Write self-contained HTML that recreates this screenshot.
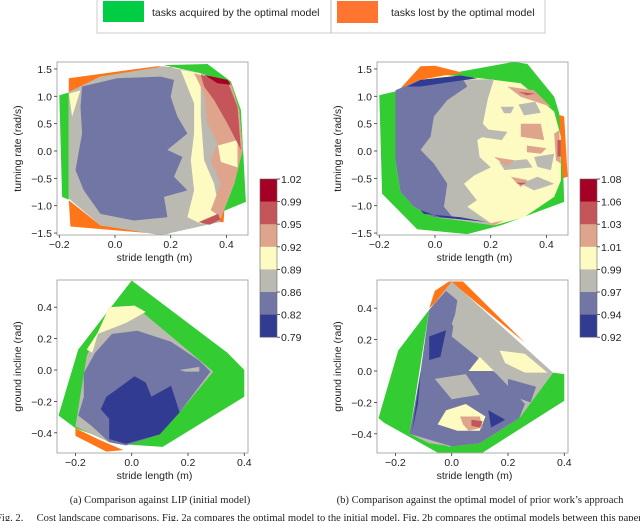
<!DOCTYPE html>
<html><head><meta charset="utf-8"><style>
body{margin:0;background:#fff;width:640px;height:521px;overflow:hidden;font-family:"Liberation Sans",sans-serif}
svg{display:block}
</style></head><body>
<svg id="fig" width="640" height="521" viewBox="0 0 640 521" xmlns="http://www.w3.org/2000/svg">
<g>
<rect x="97" y="-1" width="448" height="34" fill="#fff" stroke="#ccc"/>
<line x1="331" y1="0" x2="331" y2="33" stroke="#bbb"/>
<rect x="103" y="1" width="41" height="21" fill="#00cc44"/>
<text x="152" y="16" font-size="10.5" fill="#222">tasks acquired by the optimal model</text>
<rect x="337" y="1" width="41" height="22" fill="#ff7530"/>
<text x="391" y="16" font-size="10.5" fill="#222">tasks lost by the optimal model</text>
</g>
<text x="160" y="503" font-size="10.6" text-anchor="middle" font-family="Liberation Serif,serif" fill="#222">(a) Comparison against LIP (initial model)</text>
<text x="480" y="503" font-size="10.6" text-anchor="middle" font-family="Liberation Serif,serif" fill="#222">(b) Comparison against the optimal model of prior work’s approach</text>
<text x="-4" y="521" font-size="10.6" font-family="Liberation Serif,serif" fill="#222" xml:space="preserve">Fig. 2.     Cost landscape comparisons. Fig. 2a compares the optimal model to the initial model. Fig. 2b compares the optimal models between this paper</text>
</svg>
<script>
const C={g:"#33cc33",o:"#ff7518",db:"#323b92",b:"#7276a4",gr:"#babab2",y:"#fdfac2",s:"#dea58c",r:"#c45659",dr:"#a50026"};
// colorbar tick labels
const cbLabelsA=["1.02","0.99","0.95","0.92","0.89","0.86","0.82","0.79"];
const cbLabelsB=["1.08","1.06","1.03","1.01","0.99","0.97","0.94","0.92"];
const topXTicks=[-0.2,0,0.2,0.4];
const topYTicks=[1.5,1.0,0.5,0.0,-0.5,-1.0,-1.5];
const botXTicks=[-0.2,0,0.2,0.4];
const botYTicks=[0.4,0.2,0.0,-0.2,-0.4];
// contour regions, data units [stride, y]
const TL=[
["g",[[-0.20,1.02],[-0.166,1.07],[-0.166,-0.89],[-0.19,-0.84]]],
["g",[[0.176,1.57],[0.332,1.59],[0.416,1.27],[0.452,0.75],[0.47,-0.93],[0.188,-1.52],[0.164,-1.52],[0.374,-1.30],[0.428,-0.60],[0.458,0.02],[0.446,0.75],[0.416,1.24],[0.308,1.42]]],
["o",[[-0.166,1.33],[0.152,1.55],[0.212,1.53],[-0.052,1.36],[-0.166,1.07]]],
["o",[[-0.166,-0.90],[-0.16,-1.38],[0.164,-1.52],[-0.052,-1.36]]],
["o",[[0.404,1.27],[0.42,1.22],[0.39,-1.30],[0.37,-1.30]]],
["gr",[[-0.166,1.08],[-0.052,1.36],[0.176,1.55],[0.308,1.42],[0.416,1.24],[0.446,0.75],[0.458,0.02],[0.428,-0.60],[0.374,-1.30],[0.164,-1.54],[-0.052,-1.36],[-0.166,-0.87],[-0.166,0.75]]],
["b",[[-0.118,1.18],[0.008,1.33],[0.164,1.36],[0.212,1.30],[0.20,0.99],[0.224,0.63],[0.26,0.32],[0.188,0.02],[0.242,-0.11],[0.212,-0.47],[0.26,-0.72],[0.176,-0.84],[0.188,-1.21],[0.068,-1.27],[-0.052,-1.15],[-0.112,-0.72],[-0.142,-0.35],[-0.118,0.32],[-0.124,0.81]]],
["y",[[0.236,1.48],[0.308,1.42],[0.308,0.63],[0.32,-0.17],[0.356,-0.60],[0.38,-1.21],[0.308,-1.33],[0.26,-1.21],[0.284,-0.72],[0.272,-0.17],[0.284,0.32],[0.284,0.87]]],
["y",[[-0.166,1.05],[-0.124,1.11],[-0.154,0.63]]],
["s",[[0.284,1.42],[0.416,1.24],[0.446,0.75],[0.458,0.02],[0.428,-0.60],[0.38,-1.21],[0.344,-1.08],[0.38,-0.60],[0.344,-0.17],[0.368,0.14],[0.332,0.50],[0.32,1.05]]],
["y",[[0.37,0.1],[0.44,0.2],[0.44,-0.3],[0.38,-0.2]]],
["r",[[0.308,1.39],[0.404,1.27],[0.44,0.81],[0.452,0.02],[0.428,0.26],[0.404,0.50],[0.356,0.93],[0.32,1.18]]],
["r",[[0.30,-1.30],[0.37,-1.15],[0.38,-1.25],[0.34,-1.35]]],
["dr",[[0.322,1.39],[0.404,1.30],[0.416,1.21],[0.368,1.24]]]
];
const TR=[
["g",[[-0.20,1.02],[-0.124,1.11],[0.088,1.45],[0.284,1.63],[0.332,1.59],[0.428,0.99],[0.446,0.69],[0.458,-0.05],[0.464,-0.93],[0.236,-1.36],[0.116,-1.52],[-0.064,-1.43],[-0.19,-0.78]]],
["o",[[-0.13,1.11],[-0.052,1.55],[0.0,1.56],[0.10,1.43],[0.06,1.39],[-0.052,1.30]]],
["o",[[0.446,0.66],[0.464,0.63],[0.476,-0.47],[0.458,-0.50],[0.452,0.02]]],
["y",[[-0.142,1.11],[-0.052,1.30],[0.04,1.39],[0.164,1.33],[0.308,1.24],[0.428,0.72],[0.452,0.26],[0.452,-0.54],[0.428,-0.84],[0.32,-1.21],[0.212,-1.36],[0.092,-1.27],[-0.004,-1.21],[-0.076,-1.02],[-0.124,-0.75],[-0.142,-0.17]]],
["gr",[[-0.142,1.11],[-0.052,1.30],[0.212,1.31],[0.19,0.96],[0.172,0.5],[0.2,0.35],[0.152,0.2],[0.16,-0.11],[0.2,-0.3],[0.14,-0.45],[0.104,-0.6],[0.15,-0.9],[0.116,-1.02],[0.212,-1.36],[0.092,-1.27],[-0.004,-1.21],[-0.076,-1.02],[-0.124,-0.75],[-0.142,-0.17]]],
["gr",[[0.236,0.81],[0.284,0.81],[0.272,0.69],[0.248,0.69]]],
["gr",[[0.356,-0.11],[0.428,-0.05],[0.416,-0.35],[0.368,-0.29]]],
["gr",[[0.308,-0.60],[0.368,-0.47],[0.428,-0.60],[0.356,-0.72]]],
["gr",[[0.18,0.4],[0.26,0.35],[0.24,0.2],[0.17,0.25]]],
["gr",[[0.23,-0.2],[0.33,-0.15],[0.35,-0.3],[0.25,-0.35]]],
["gr",[[0.3,0.85],[0.36,0.9],[0.38,0.7],[0.32,0.65]]],
["b",[[-0.142,1.11],[-0.052,1.30],[0.092,1.38],[0.116,1.18],[0.044,0.93],[-0.004,0.63],[-0.016,0.26],[-0.052,0.02],[-0.004,-0.23],[0.044,-0.60],[0.032,-1.02],[0.068,-1.24],[-0.004,-1.21],[-0.076,-1.02],[-0.124,-0.75],[-0.142,-0.17]]],
["db",[[-0.10,1.18],[-0.052,1.30],[0.092,1.38],[0.152,1.33],[0.068,1.27],[-0.052,1.18]]],
["db",[[-0.052,-1.08],[0.02,-1.21],[0.188,-1.30],[0.092,-1.21],[-0.04,-1.15]]],
["s",[[0.26,1.18],[0.356,1.11],[0.416,0.81],[0.308,0.99]]],
["s",[[0.308,0.50],[0.38,0.50],[0.392,0.20],[0.308,0.26]]],
["s",[[0.212,-0.11],[0.284,-0.17],[0.26,-0.29]]],
["s",[[0.272,-0.47],[0.332,-0.53],[0.308,-0.66]]],
["s",[[0.33,0.1],[0.4,0.05],[0.38,-0.05],[0.33,-0.02]]],
["s",[[0.428,0.32],[0.446,0.38],[0.452,-0.23],[0.434,-0.17]]],
["s",[[0.188,-1.33],[0.248,-1.27],[0.212,-1.36]]],
["r",[[0.30,1.08],[0.36,1.05],[0.33,1.02]]],
["r",[[0.29,-0.58],[0.33,-0.58],[0.31,-0.62]]],
["r",[[0.44,0.2],[0.452,0.2],[0.452,-0.1],[0.44,-0.1]]]
];
const BL=[
["g",[[-0.26,-0.29],[-0.19,0.13],[0.0,0.57],[0.34,0.11],[0.40,0.0],[0.40,-0.17],[0.11,-0.49],[-0.05,-0.47],[-0.20,-0.37]]],
["o",[[-0.20,-0.37],[-0.20,-0.42],[-0.09,-0.52],[-0.03,-0.51],[-0.12,-0.44]]],
["gr",[[-0.08,0.40],[0.01,0.41],[0.29,-0.01],[0.17,-0.27],[0.10,-0.41],[-0.02,-0.48],[-0.08,-0.46],[-0.20,-0.36],[-0.16,0.09],[-0.12,0.24]]],
["y",[[-0.08,0.40],[0.01,0.41],[0.05,0.37],[-0.02,0.30],[-0.12,0.23],[-0.14,0.11],[-0.16,0.13],[-0.12,0.24]]],
["b",[[-0.13,0.11],[-0.07,0.23],[0.02,0.25],[0.14,0.18],[0.24,0.06],[0.28,-0.01],[0.17,-0.27],[0.10,-0.41],[-0.02,-0.48],[-0.08,-0.46],[-0.14,-0.36],[-0.19,-0.29],[-0.17,-0.17],[-0.17,-0.02]]],
["gr",[[0.17,0.0],[0.24,0.02],[0.24,-0.01],[0.19,-0.01]]],
["db",[[-0.09,-0.17],[-0.05,-0.12],[0.01,-0.04],[0.05,-0.08],[0.07,-0.17],[0.14,-0.10],[0.17,-0.27],[0.10,-0.41],[-0.02,-0.47],[-0.08,-0.44],[-0.08,-0.31],[-0.11,-0.25]]]
];
const BR=[
["g",[[-0.26,-0.30],[-0.19,0.13],[-0.08,0.39],[-0.15,-0.40],[-0.01,-0.48],[0.10,-0.46],[0.24,-0.30],[0.36,-0.01],[0.40,-0.02],[0.40,-0.19],[0.11,-0.52],[-0.05,-0.52],[-0.24,-0.33]]],
["o",[[-0.06,0.51],[-0.01,0.57],[0.04,0.57],[0.26,0.18],[0.01,0.55],[-0.08,0.40]]],
["gr",[[-0.08,0.39],[0.0,0.57],[0.36,-0.01],[0.24,-0.30],[0.10,-0.46],[0.0,-0.48],[-0.08,-0.46],[-0.15,-0.40],[-0.11,0.0]]],
["b",[[-0.08,0.39],[-0.02,0.51],[0.02,0.45],[0.0,0.22],[0.09,0.09],[0.16,-0.02],[0.24,-0.17],[0.26,-0.21],[0.24,-0.30],[0.10,-0.46],[0.0,-0.48],[-0.15,-0.40],[-0.11,0.0]]],
["b",[[0.2,-0.05],[0.3,-0.1],[0.28,-0.2],[0.2,-0.15]]],
["gr",[[0.02,0.40],[0.08,0.30],[0.04,0.20],[0.0,0.30]]],
["gr",[[-0.06,-0.05],[0.05,-0.02],[0.1,-0.15],[0.0,-0.18]]],
["y",[[0.17,0.13],[0.26,0.11],[0.34,-0.01],[0.26,-0.01],[0.19,0.05]]],
["y",[[0.10,0.09],[0.15,0.0],[0.06,0.0]]],
["y",[[-0.02,-0.25],[0.05,-0.21],[0.12,-0.29],[0.10,-0.38],[0.02,-0.38],[-0.05,-0.34]]],
["s",[[0.03,-0.29],[0.10,-0.29],[0.11,-0.36],[0.06,-0.38],[0.04,-0.34]]],
["r",[[0.07,-0.31],[0.11,-0.32],[0.10,-0.36],[0.07,-0.35]]],
["db",[[-0.08,0.22],[-0.02,0.26],[-0.04,0.09],[-0.08,0.07]]],
["db",[[0.13,-0.25],[0.19,-0.31],[0.14,-0.36]]],
["db",[[-0.14,-0.38],[-0.11,0.0],[-0.12,-0.21]]]
];
const NS="http://www.w3.org/2000/svg";
const svg=document.getElementById("fig");
function mk(t,a,p){const e=document.createElementNS(NS,t);for(const k in a)e.setAttribute(k,a[k]);(p||svg).appendChild(e);return e;}
const axes=[
{id:"a-top",x0:115,xs:278.5,y0:151,ys:54.7,box:[57,62,248,235],regs:TL,xt:topXTicks,yt:topYTicks,yl:"turning rate (rad/s)"},
{id:"b-top",x0:435,xs:278.5,y0:151,ys:54.7,box:[377,62,568,235],regs:TR,xt:topXTicks,yt:topYTicks,yl:"turning rate (rad/s)"},
{id:"a-bottom",x0:131.7,xs:281.5,y0:370,ys:157,box:[57,280,248,453],regs:BL,xt:botXTicks,yt:botYTicks,yl:"ground incline (rad)"},
{id:"b-bottom",x0:451.7,xs:281.5,y0:371,ys:157,box:[377,280,568,453],regs:BR,xt:botXTicks,yt:botYTicks,yl:"ground incline (rad)"}
];
axes.forEach(ax=>{
  const X=v=>ax.x0+v*ax.xs, Y=v=>ax.y0-v*ax.ys;
  const [l,t,r,b]=ax.box;
  const g=mk("g",{});
  
  
  const cp=mk("clipPath",{id:"cp-"+ax.id},g);mk("rect",{x:l,y:t,width:r-l,height:b-t},cp);
  const cg=mk("g",{"clip-path":"url(#cp-"+ax.id+")"},g);
  ax.regs.forEach(rg=>{
    const p=mk("polygon",{points:rg[1].map(q=>X(q[0]).toFixed(1)+","+Y(q[1]).toFixed(1)).join(" "),fill:C[rg[0]]},cg);
    
    
  });
  mk("rect",{x:l,y:t,width:r-l,height:b-t,fill:"none",stroke:"#999","stroke-width":0.8},g);
  ax.xt.forEach(v=>{
    mk("line",{x1:X(v),x2:X(v),y1:b,y2:b+3,stroke:"#333","stroke-width":0.8},g);
    const tx=mk("text",{x:X(v),y:b+13,"font-size":10.5,"text-anchor":"middle",fill:"#222"},g);
    tx.textContent=(v<0?"\u2212":"")+Math.abs(v).toFixed(1);
    
    
  });
  ax.yt.forEach(v=>{
    mk("line",{x1:l-3,x2:l,y1:Y(v),y2:Y(v),stroke:"#333","stroke-width":0.8},g);
    const tx=mk("text",{x:l-5,y:Y(v)+4,"font-size":10.5,"text-anchor":"end",fill:"#222"},g);
    tx.textContent=(v<0?"\u2212":"")+Math.abs(v).toFixed(1);
    
    
  });
  const xl=mk("text",{x:(l+r)/2+2,y:b+26,"font-size":10.5,"text-anchor":"middle",fill:"#222"},g);
  xl.textContent="stride length (m)";
  
  
  const cy=(t+b)/2;
  const yl=mk("text",{x:l-36,y:cy,"font-size":10.5,"text-anchor":"middle",fill:"#222",transform:"rotate(-90 "+(l-36)+" "+cy+")"},g);
  yl.textContent=ax.yl;
  
  
});
const cbColors=["dr","r","s","y","gr","b","db"];
[[260,cbLabelsA,"a"],[580,cbLabelsB,"b"]].forEach(([x,labs,k])=>{
  const g=mk("g",{});
  
  
  const top=179,step=22.6;
  cbColors.forEach((c,i)=>mk("rect",{x:x,y:top+i*step,width:17,height:step+0.3,fill:C[c]},g));
  mk("rect",{x:x,y:top,width:17,height:step*7,fill:"none",stroke:"#666","stroke-width":0.6},g);
  labs.forEach((s,i)=>{
    mk("line",{x1:x+17,x2:x+20,y1:top+i*step,y2:top+i*step,stroke:"#333","stroke-width":0.8},g);
    const tx=mk("text",{x:x+21,y:top+i*step+4,"font-size":10.5,fill:"#222"},g);
    tx.textContent=s;
    
    
  });
});
</script>
</body></html>
